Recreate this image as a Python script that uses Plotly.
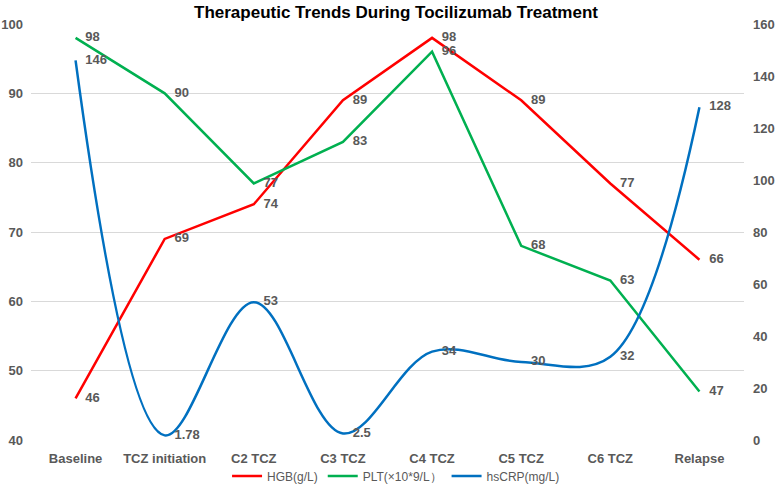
import plotly.graph_objects as go

categories = ["Baseline", "TCZ initiation", "C2 TCZ", "C3 TCZ", "C4 TCZ", "C5 TCZ", "C6 TCZ", "Relapse"]
hgb = [46, 69, 74, 89, 98, 89, 77, 66]
plt_vals = [98, 90, 77, 83, 96, 68, 63, 47]
hscrp = [146, 1.78, 53, 2.5, 34, 30, 32, 128]

FONT = "Liberation Sans"
GREY = "#595959"
lab_font = dict(family=FONT, size=13, color=GREY, weight="bold")
tick_font = dict(family=FONT, size=13, color=GREY, weight="bold")


def add_series(name, values, color, yaxis="y", shape="linear"):
    fig.add_trace(go.Scatter(
        x=categories, y=values, name=name, mode="lines+markers+text", yaxis=yaxis,
        line=dict(color=color, width=2.5, shape=shape, smoothing=1),
        marker=dict(size=14, color="rgba(0,0,0,0)", line=dict(width=0)),
        text=[str(v) for v in values], textposition="middle right",
        textfont=lab_font, cliponaxis=False,
    ))


fig = go.Figure()
add_series("HGB(g/L)", hgb, "#FF0000")
add_series("PLT(×10*9/L）", plt_vals, "#00B050")
add_series("hsCRP(mg/L)", hscrp, "#0070C0", yaxis="y2", shape="spline")

fig.update_layout(
    width=776, height=491,
    margin=dict(l=31, r=32, t=24, b=51),
    paper_bgcolor="white", plot_bgcolor="white",
    title=dict(text="Therapeutic Trends During Tocilizumab Treatment",
               font=dict(family=FONT, size=17, color="black", weight="bold"),
               x=396 / 776, xanchor="center", y=1 - 12 / 491, yanchor="middle", yref="container"),
    xaxis=dict(range=[-0.5, 7.5], showgrid=False, showline=False, zeroline=False, ticks="",
               automargin=False, ticklabelstandoff=9, tickfont=tick_font),
    yaxis=dict(range=[40, 100], dtick=10, showgrid=True, gridcolor="#D9D9D9", gridwidth=1,
               zeroline=False, showline=False, ticks="", automargin=False,
               ticklabelstandoff=7, tickfont=tick_font),
    yaxis2=dict(range=[0, 160], dtick=20, overlaying="y", side="right", showgrid=False,
                zeroline=False, showline=False, ticks="", automargin=False,
                ticklabelstandoff=8, tickfont=tick_font),
    legend=dict(orientation="h", x=0.512, xanchor="center", y=1 - 476 / 491, yanchor="middle",
                yref="container", bgcolor="rgba(0,0,0,0)",
                font=dict(family=FONT, size=12, color=GREY)),
    showlegend=True,
)

fig.write_html("out.html")
